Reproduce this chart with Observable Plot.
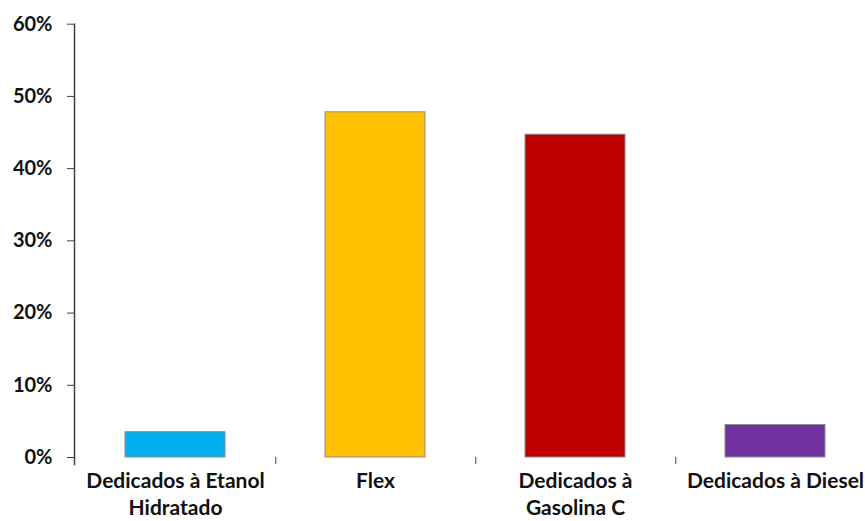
<!DOCTYPE html>
<html>
<head>
<meta charset="utf-8">
<script src="https://cdn.jsdelivr.net/npm/d3@7"></script>
<script src="https://cdn.jsdelivr.net/npm/@observablehq/plot@0.6"></script>
<style>
  html, body { margin: 0; padding: 0; background: #fff; }
  #chart svg { display: block; }
</style>
</head>
<body>
<div id="chart"></div>
<script>
// Vehicle fleet share by fuel type
const categories = ["Dedicados à Etanol\nHidratado", "Flex", "Dedicados à\nGasolina C", "Dedicados à Diesel"];
const shares = [3.5, 47.8, 44.7, 4.5];
const colors = ["#00B0F0", "#FFC000", "#C00000", "#7030A0"];
const yTicks = [0, 10, 20, 30, 40, 50, 60];

const rows = categories.map((c, i) => ({category: c, share: shares[i], color: colors[i]}));

const W = 865, H = 521;
const padLeft = 74, plotRight = 876, padTop = 23.7, baseY = 457;
const font = "Lato, 'Open Sans', sans-serif";

const chart = Plot.plot({
  width: W,
  height: H,
  marginLeft: padLeft,
  marginTop: padTop,
  marginBottom: H - baseY,
  marginRight: 0,
  style: {fontFamily: font, fontWeight: "bold", fontSize: "21px", color: "#111", background: "#fff"},
  x: {domain: categories, range: [padLeft, plotRight], paddingInner: 0.5, paddingOuter: 0.25, label: null},
  y: {domain: [0, 60], range: [baseY, padTop], label: null},
  marks: [
    Plot.gridY(yTicks.filter(d => d > 0), {stroke: "#8a8a8a", strokeOpacity: 1, x1: padLeft - 7, x2: W}),
    Plot.axisY({ticks: yTicks, tickSize: 7, tickPadding: 15, stroke: "#404040", tickFormat: d => d + "%", fontSize: 20, fill: "#111"}),
    Plot.barY(rows, {x: "category", y: "share", fill: "color", stroke: "#8c8c8c", strokeWidth: 1}),
    Plot.ruleY([0], {stroke: "#404040", strokeWidth: 1.5, x1: padLeft - 7, x2: W}),
    Plot.frame({anchor: "left", stroke: "#404040", strokeWidth: 1.5, insetBottom: -7}),
    // separators between categories
    Plot.axisX({ticks: categories.slice(0, -1), tickSize: 7, dx: 100.25, stroke: "#404040", tickFormat: () => ""}),
    Plot.axisX({tickSize: 0, tickPadding: 11, lineHeight: 1.3, fontSize: 21, fill: "#111", textAnchor: "middle"})
  ]
});

document.getElementById("chart").append(chart);
</script>
</body>
</html>
